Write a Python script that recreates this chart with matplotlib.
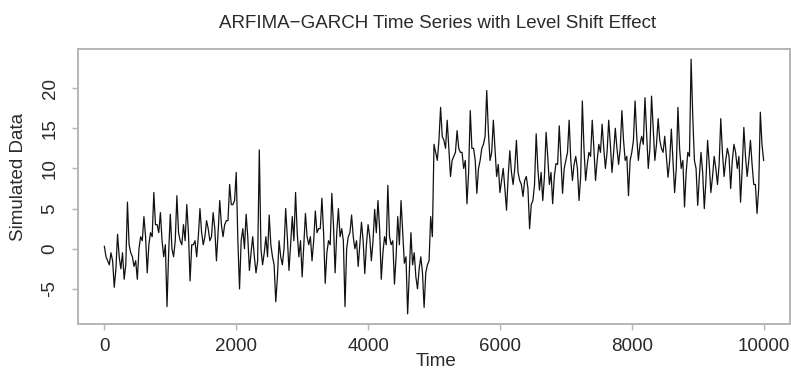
#ARFIMA-GARCH series with a level shift at t = 5000
#values: swing values every 50 time steps,
#and the level of the dark core of the band half way between them

import numpy as np
import matplotlib.pyplot as plt

plt.rcParams['font.family'] = ['Liberation Sans', 'DejaVu Sans']

#time axis
step = 25
t_start = 0

#swings (t = 0, 50, 100, ...), one block per 1000 time units
swing_0 = [0.3, -1.5, -0.5, -4.8, 1.8, -2.5, -3.8, 5.8, -0.5, -2.2,
           -3.8, 1.5, 4.0, -3.0, 2.0, 7.0, 3.0, 4.5, -1.0, -7.2]
swing_1 = [4.3, -1.0, 6.6, 1.0, 3.0, 5.5, -4.0, 0.5, -1.0, 5.0,
           0.5, 3.5, 1.0, 4.5, -1.5, 6.0, 1.5, 3.5, 8.0, 5.5]
swing_2 = [9.5, -5.0, 2.5, 4.3, -2.7, 1.5, -3.0, 12.3, -2.0, 1.5,
           4.2, -1.0, -6.6, 1.0, -2.0, 5.0, -2.7, 4.0, 7.0, -1.0]
swing_3 = [-3.5, 4.4, 0.5, -1.5, 4.7, 2.5, 6.3, -4.3, 1.0, 6.9,
           -3.0, 5.0, 2.5, -7.2, 1.5, 4.2, 0.0, -2.2, 3.3, -3.1]
swing_4 = [3.0, -1.5, 4.9, 6.0, -3.8, 1.5, 7.9, 0.5, -4.4, 4.0,
           6.0, -1.8, -8.1, 2.0, -0.5, -5.0, -1.0, -7.3, -2.0, 4.0]
swing_5 = [13.0, 11.0, 17.6, 13.5, 16.0, 9.0, 11.5, 14.7, 12.0, 10.0,
           5.6, 17.2, 12.5, 6.9, 11.0, 13.0, 19.7, 11.0, 16.0, 9.0]
swing_6 = [7.0, 10.0, 4.8, 12.2, 8.0, 13.5, 8.5, 6.5, 9.0, 2.5,
           6.0, 14.3, 7.3, 6.0, 14.5, 8.0, 5.6, 10.6, 15.3, 6.9]
swing_7 = [11.0, 16.0, 8.5, 11.5, 6.0, 18.4, 8.5, 12.0, 16.0, 8.5,
           13.0, 15.5, 10.0, 16.0, 9.5, 15.0, 10.5, 17.2, 11.0, 6.6]
swing_8 = [12.0, 18.4, 11.0, 14.0, 18.8, 10.0, 19.0, 11.0, 16.2, 12.5,
           14.0, 8.9, 14.9, 7.0, 17.6, 10.0, 5.2, 12.0, 23.6, 11.0]
swing_9 = [5.4, 12.0, 5.0, 13.5, 7.0, 11.5, 8.0, 16.2, 9.0, 12.5,
           7.5, 13.0, 10.0, 5.8, 15.1, 9.0, 13.5, 8.0, 4.4, 17.0, 11.0]

#core of the band (t = 25, 75, 125, ...)
core_0 = [-1.0, -2.0, -1.5, -2.5, -1.0, -0.5, -2.0, 0.5, -1.0, -1.5,
          0.0, 1.0, 1.5, 0.5, 1.5, 3.0, 2.0, 1.0, 0.5, -0.5]
core_1 = [0.0, 1.0, 2.0, 0.5, 1.0, 2.0, 0.5, 1.0, 1.5, 2.0,
          1.5, 2.5, 1.5, 2.5, 2.0, 3.0, 3.0, 3.5, 5.5, 6.0]
core_2 = [1.0, 1.0, 0.0, 1.5, -0.5, -1.0, -1.5, 0.0, -0.5, -1.0,
          0.5, -2.0, -3.5, -1.0, 0.0, 1.5, 0.5, 1.0, 2.0, 1.0]
core_3 = [0.5, 1.5, 1.5, 1.0, 2.0, 2.5, 2.0, -0.5, 0.5, 3.0,
          2.0, 1.5, 1.0, 0.0, 2.0, 1.5, 1.0, 0.5, 1.0, 0.5]
core_4 = [1.5, 1.0, 2.0, 2.5, -0.5, 0.5, 1.5, 1.0, -1.0, 0.5,
          2.0, -1.0, -3.0, -2.0, -3.5, -2.5, -3.0, -3.0, -1.5, 1.5]
core_5 = [12.0, 13.5, 14.0, 12.5, 12.5, 11.0, 12.0, 12.5, 12.0, 11.0,
          9.5, 12.5, 11.0, 10.0, 12.5, 14.0, 14.5, 12.0, 12.5, 10.5]
core_6 = [8.5, 7.5, 9.0, 9.5, 10.0, 9.5, 8.0, 8.5, 7.5, 5.5,
          8.0, 10.0, 9.5, 9.0, 11.5, 9.5, 9.0, 10.5, 11.0, 10.0]
core_7 = [12.0, 11.0, 10.5, 10.0, 9.0, 12.5, 10.5, 11.5, 12.5, 11.0,
          12.0, 12.5, 12.0, 13.0, 12.0, 12.5, 12.5, 13.5, 11.5, 11.0]
core_8 = [13.5, 14.0, 13.0, 13.0, 14.5, 12.5, 15.0, 13.0, 13.5, 12.0,
          11.5, 11.0, 11.0, 10.0, 12.5, 11.0, 9.5, 11.5, 16.5, 10.0]
core_9 = [9.0, 9.5, 8.5, 10.5, 9.0, 10.0, 10.5, 12.0, 11.0, 11.5,
          11.0, 12.0, 11.5, 10.0, 11.5, 11.0, 10.5, 8.0, 7.5, 13.0]

swing = np.array(swing_0 + swing_1 + swing_2 + swing_3 + swing_4
                 + swing_5 + swing_6 + swing_7 + swing_8 + swing_9)
core = np.array(core_0 + core_1 + core_2 + core_3 + core_4
                + core_5 + core_6 + core_7 + core_8 + core_9)

#interleave: swing, core, swing, core, ... , swing
y = np.empty(len(swing) + len(core))
y[0::2] = swing
y[1::2] = core
t = t_start + step*np.arange(len(y))

x_ticks = [0, 2000, 4000, 6000, 8000, 10000]
y_ticks = [-5, 0, 5, 10, 15, 20]

fig = plt.figure(figsize=(7.91, 3.76), dpi=100)
ax = fig.add_axes([78/791, 1 - 324/376, 712/791, 275/376])

ax.plot(t, y, color='#111111', lw=0.9)

#R style 4% padding on both axes
xr = t.max() - t.min()
yr = y.max() - y.min()
ax.set_xlim(t.min() - 0.04*xr, t.max() + 0.04*xr)
ax.set_ylim(y.min() - 0.04*yr, y.max() + 0.04*yr)

ax.set_xticks(x_ticks)
ax.set_yticks(y_ticks)
ax.set_xticklabels([str(v) for v in x_ticks])
ax.set_yticklabels([str(v) for v in y_ticks], rotation=90, va='center')

box = '#b5b5b5'
for s in ax.spines.values():
    s.set_color(box)
    s.set_linewidth(1.4)
ax.tick_params(colors=box, labelcolor='#2a2a2a', labelsize=13.5,
               length=4, width=1.0)
ax.tick_params(axis='x', pad=6)
ax.tick_params(axis='y', pad=10)

fig.text(438/791, 1 - 23/376, 'ARFIMA\u2212GARCH Time Series with Level Shift Effect',
         ha='center', va='center', fontsize=13.5, color='#2a2a2a')
fig.text(436/791, 1 - 362/376, 'Time', ha='center', va='center',
         fontsize=13.5, color='#2a2a2a')
fig.text(19/791, 1 - 177/376, 'Simulated Data', ha='center', va='center',
         rotation=90, fontsize=13.5, color='#2a2a2a')

plt.savefig('out.png', dpi=100)
